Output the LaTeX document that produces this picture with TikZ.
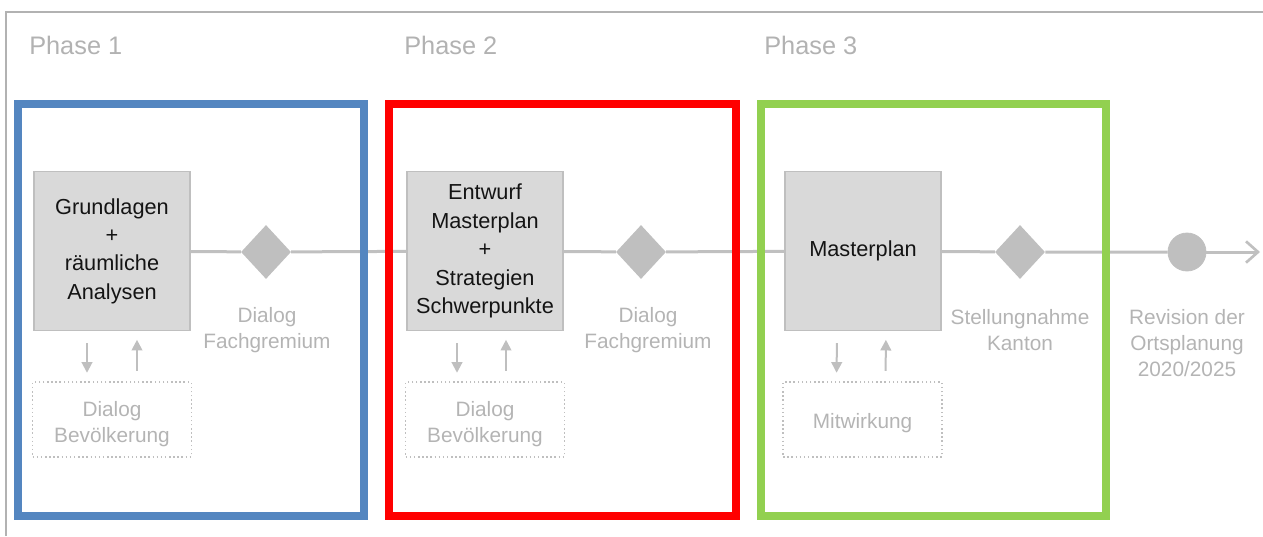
\documentclass[tikz,border=0pt]{standalone}
\usepackage{fontspec}
\setmainfont{Liberation Sans}
\usetikzlibrary{arrows.meta,shapes.geometric}
\definecolor{frameblue}{RGB}{84,134,192}
\definecolor{framered}{RGB}{255,0,0}
\definecolor{framegreen}{RGB}{146,208,80}
\definecolor{boxfill}{RGB}{217,217,217}
\definecolor{boxline}{RGB}{191,191,191}
\definecolor{labelgray}{RGB}{180,180,180}
\definecolor{linegray}{RGB}{192,192,192}
\definecolor{outergray}{RGB}{178,178,178}
\definecolor{textblack}{RGB}{20,20,20}
\tikzset{
  graybox/.style={draw=boxline, line width=1.2pt, fill=boxfill, minimum width=117pt, minimum height=119pt, inner sep=0pt, align=center, text=textblack, font=\fontsize{16.3pt}{21.3pt}\selectfont},
  dotbox/.style={draw=boxline, line width=1.1pt, dotted, minimum width=119pt, minimum height=56pt, inner sep=0pt, align=center, text=labelgray, font=\fontsize{15.6pt}{19.5pt}\selectfont},
  milestone/.style={diamond, fill=boxline, draw=none, minimum width=37.5pt, minimum height=40.5pt, inner sep=0pt},
  endpoint/.style={circle, fill=boxline, draw=linegray, line width=0.6pt, minimum size=28.5pt, inner sep=0pt},
  glabel/.style={align=center, text=labelgray, inner sep=0pt, font=\fontsize{15.6pt}{19.5pt}\selectfont},
  phaselabel/.style={anchor=west, text=outergray, inner sep=0pt, font=\fontsize{19pt}{22pt}\selectfont},
  mainline/.style={draw=linegray, line width=2.25pt},
  smallarrow/.style={draw=boxline, line width=1.5pt, -{Triangle[length=8pt,width=8pt]}},
  phaseframe/.style={line width=6pt}
}
\begin{document}
\begin{tikzpicture}[x=0.75pt,y=-0.75pt]
\useasboundingbox (0,0) rectangle (1263,536);
% outer frame (top and left edges)
\draw[outergray, line width=1.5pt] (6,536) -- (6,12) -- (1263,12);
% phase titles
\node[phaselabel] (t1) at (29,45) {Phase 1};
\node[phaselabel] (t2) at (404,45) {Phase 2};
\node[phaselabel] (t3) at (764,45) {Phase 3};
% main boxes
\node[graybox] (b1) at (112,251) {Grundlagen\\+\\räumliche\\Analysen};
\node[graybox] (b2) at (485,251) {Entwurf\\Masterplan\\+\\Strategien\\Schwerpunkte};
\node[graybox] (b3) at (863,251) {Masterplan};
% milestones
\node[milestone] (d1) at (266,252) {};
\node[milestone] (d2) at (641,252) {};
\node[milestone] (d3) at (1020,252) {};
\node[endpoint] (c) at (1187,252) {};
\coordinate (e) at (1260,252);
% labels
\node[glabel] (l1) at (267,330) {Dialog\\Fachgremium};
\node[glabel] (l2) at (648,330) {Dialog\\Fachgremium};
\node[glabel] (l3) at (1020,330) {Stellungnahme\\Kanton};
\node[glabel] (l4) at (1187,343) {Revision der\\Ortsplanung\\2020/2025};
% dotted boxes
\node[dotbox, text height=38pt] (p1) at (112,419.5) {Dialog\\Bevölkerung};
\node[dotbox, text height=38pt] (p2) at (485,419.5) {Dialog\\Bevölkerung};
\node[dotbox, text height=17pt] (p3) at (862.5,419.5) {Mitwirkung};
% main line
\draw[mainline] (b1) -- (d1) -- (b2) -- (d2) -- (b3) -- (d3) -- (c);
\draw[mainline, -{Straight Barb[length=9pt,width=16pt,line width=2pt]}] (c) -- (e);
% small arrows
\draw[smallarrow, shorten <=9pt, shorten >=6.5pt] ([xshift=-18.75pt]b1.south) -- ([xshift=-18.75pt]p1.north);
\draw[smallarrow, shorten <=8pt, shorten >=6.5pt] ([xshift=18.75pt]p1.north) -- ([xshift=18.75pt]b1.south);
\draw[smallarrow, shorten <=9pt, shorten >=6.5pt] ([xshift=-21pt]b2.south) -- ([xshift=-21pt]p2.north);
\draw[smallarrow, shorten <=8pt, shorten >=6.5pt] ([xshift=15.75pt]p2.north) -- ([xshift=15.75pt]b2.south);
\draw[smallarrow, shorten <=9pt, shorten >=6.5pt] ([xshift=-19.5pt]b3.south) -- ([xshift=-19.5pt]p3.north);
\draw[smallarrow, shorten <=8pt, shorten >=6.5pt] ([xshift=17.25pt]p3.north) -- ([xshift=17.25pt]b3.south);
% phase frames
\draw[phaseframe, frameblue] (17.5,104) rectangle (364,516);
\draw[phaseframe, framered] (388.5,104) rectangle (735.5,516);
\draw[phaseframe, framegreen] (760.5,104) rectangle (1106,516);
\end{tikzpicture}
\end{document}
